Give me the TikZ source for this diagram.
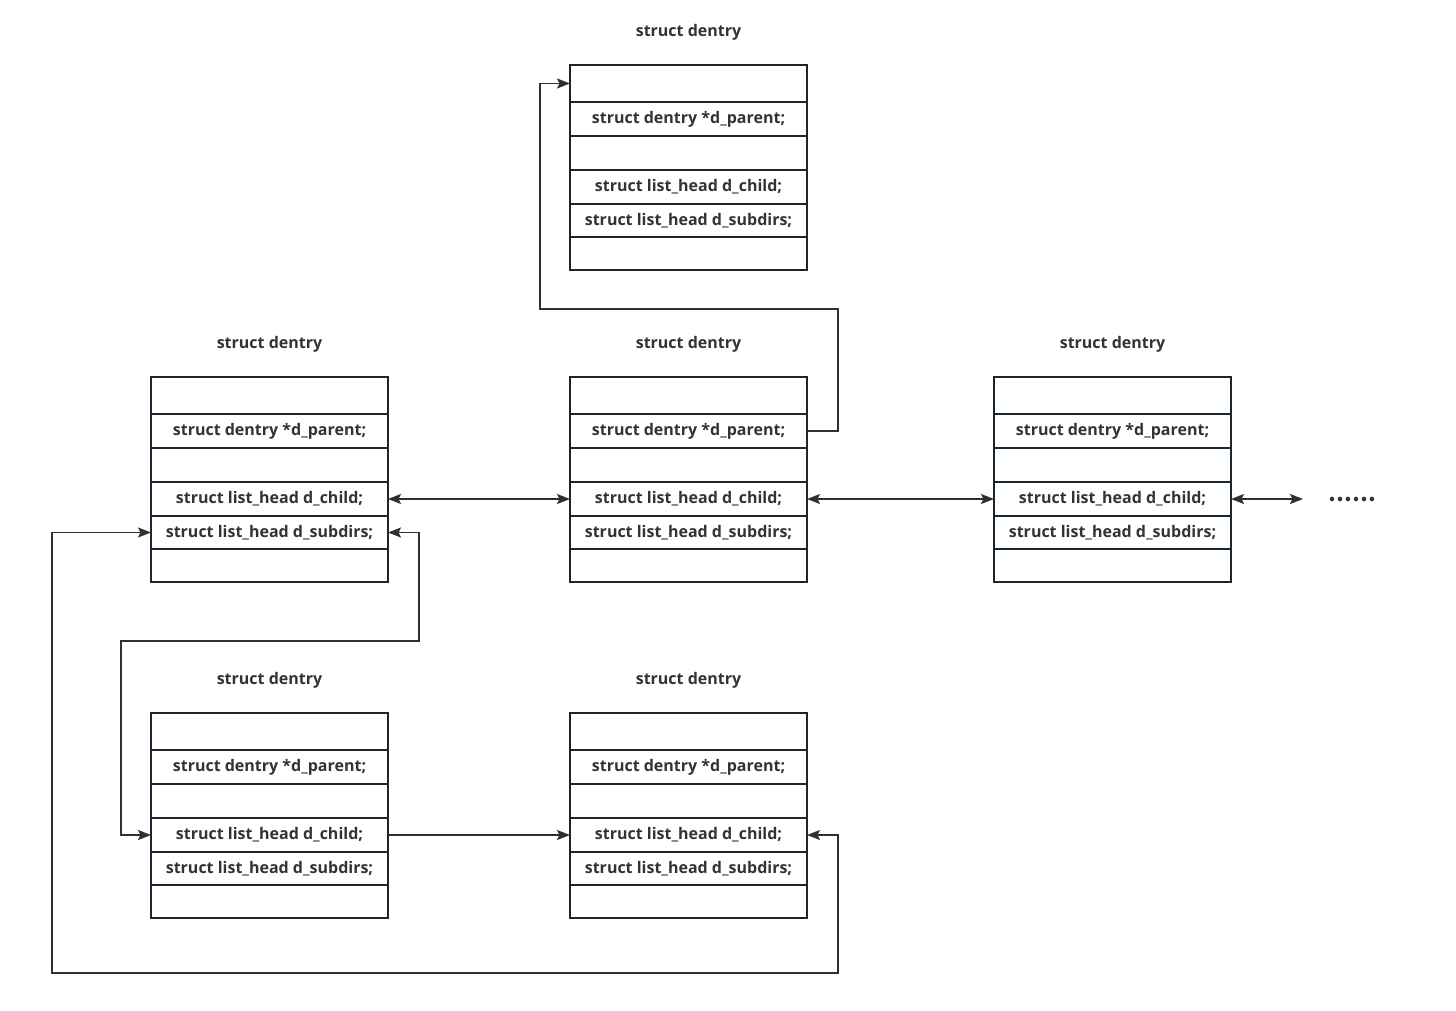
\documentclass[tikz,border=0pt]{standalone}
\usepackage{fontspec}
\setmainfont{Open Sans}
\newfontfamily\cjk{Noto Sans CJK SC}
\usetikzlibrary{arrows.meta}
\definecolor{boxc}{HTML}{1B2631}
\definecolor{linec}{HTML}{303030}
\definecolor{txtc}{HTML}{333333}
\newcommand\dentrybox[3]{%
  \node[rowc, minimum height=37pt, anchor=north west] (#1-1) at (#2,#3) {};
  \node[rowc, minimum height=34pt, anchor=north] (#1-2) at (#1-1.south) {struct dentry *d\_parent;};
  \node[rowc, minimum height=34pt, anchor=north] (#1-3) at (#1-2.south) {};
  \node[rowc, minimum height=34pt, anchor=north] (#1-4) at (#1-3.south) {struct list\_head d\_child;};
  \node[rowc, minimum height=33pt, anchor=north] (#1-5) at (#1-4.south) {struct list\_head d\_subdirs;};
  \node[rowc, minimum height=33pt, anchor=north] (#1-6) at (#1-5.south) {};
  \node[titlec] (#1-t) at ([yshift=33pt]#1-1.north) {struct dentry};
}
\begin{document}
\begin{tikzpicture}[x=1pt,y=-1pt,
  rowc/.style={draw=boxc, line width=1.8pt, minimum width=237pt, inner sep=0pt, outer sep=0pt,
    font=\fontsize{16}{19}\selectfont\bfseries, text=txtc},
  titlec/.style={font=\fontsize{16}{19}\selectfont\bfseries, text=txtc, inner sep=0pt},
  conn/.style={draw=linec, line width=1.8pt},
  ah/.style={-{Stealth[length=13pt,width=10pt,inset=2.5pt]}},
  dah/.style={{Stealth[length=13pt,width=10pt,inset=2.5pt]}-{Stealth[length=13pt,width=10pt,inset=2.5pt]}}]
\useasboundingbox (0,0) rectangle (1456,1011);
\fill[white] (0,0) rectangle (1456,1011);
\dentrybox{t}{570}{65}
\dentrybox{l}{151}{377}
\dentrybox{c}{570}{377}
\dentrybox{r}{994}{377}
\dentrybox{bl}{151}{713}
\dentrybox{bc}{570}{713}
\coordinate (p1) at (838,309);
\coordinate (p2) at (540,309);
\coordinate (dend) at (1303,499);
\coordinate (q1) at (52,973);
\coordinate (q2) at (838,973);
\coordinate (s1) at (419,641);
\coordinate (s2) at (121,641);
\node[font=\cjk\fontsize{21}{24}\selectfont\bfseries, text=txtc, inner sep=0pt] (dots) at (1352,499) {……};
\draw[conn,ah] (c-2.east) -| (p1) -- (p2) |- (t-1.west);
\draw[conn,dah] (l-4.east) -- (c-4.west);
\draw[conn,dah] (c-4.east) -- (r-4.west);
\draw[conn,dah] (r-4.east) -- (dend);
\draw[conn,dah] (l-5.west) -| (q1) -- (q2) |- (bc-4.east);
\draw[conn,dah] (l-5.east) -| (s1) -- (s2) |- (bl-4.west);
\draw[conn,ah] (bl-4.east) -- (bc-4.west);
\end{tikzpicture}
\end{document}
